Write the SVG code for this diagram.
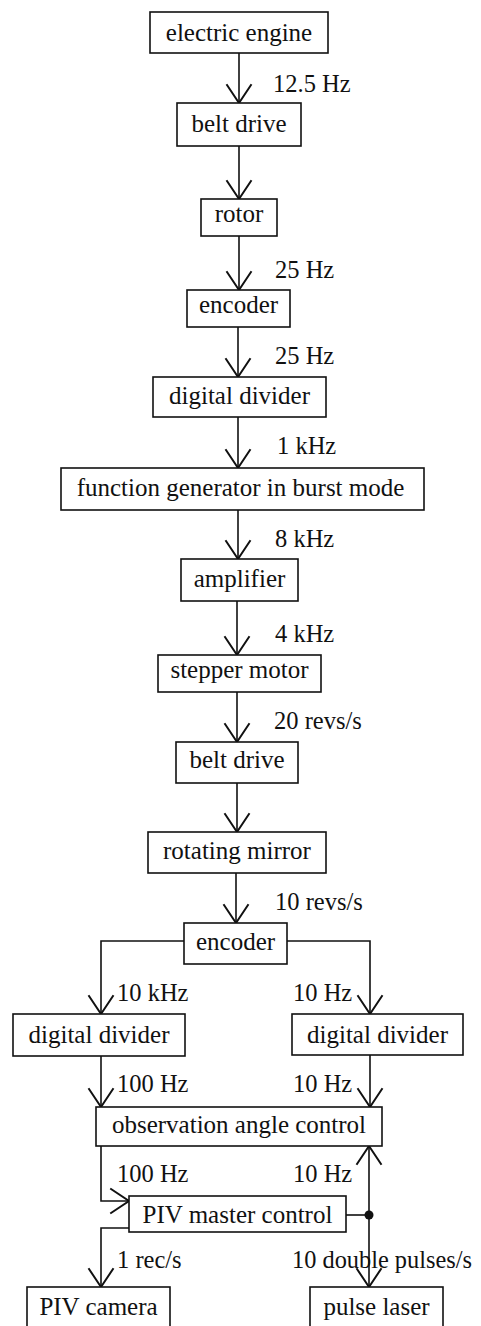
<svg xmlns="http://www.w3.org/2000/svg" width="481" height="1326" viewBox="0 0 481 1326">
<style>
.box{fill:#fff;stroke:#111;stroke-width:1.6}
.t{font-family:'Liberation Serif','Times New Roman',serif;font-size:25px;fill:#111;text-anchor:middle}
.l{font-family:'Liberation Serif','Times New Roman',serif;font-size:24.5px;fill:#111}
.c{fill:none;stroke:#111;stroke-width:1.6;marker-end:url(#ah)}
.p{fill:none;stroke:#111;stroke-width:1.6}
</style>
<defs>
<marker id="ah" markerUnits="userSpaceOnUse" markerWidth="30" markerHeight="30" viewBox="-16 -12 20 24" refX="0" refY="0" orient="auto">
<path d="M-15,-10 L0,0 L-15,10" fill="none" stroke="#111" stroke-width="1.6"/>
</marker>
</defs>
<rect width="481" height="1326" fill="#fff"/>
<g id="connectors">
<path class="c" d="M239,53 V103"/>
<path class="c" d="M239,146 V199"/>
<path class="c" d="M239,236 V290"/>
<path class="c" d="M238,327 V377"/>
<path class="c" d="M238,417 V468"/>
<path class="c" d="M238,510 V559"/>
<path class="c" d="M237,601 V655"/>
<path class="c" d="M237,692 V742"/>
<path class="c" d="M237,783 V832"/>
<path class="c" d="M236,873 V923"/>
<path class="c" d="M184,941 H101 V1014"/>
<path class="c" d="M287,941 H370 V1014"/>
<path class="c" d="M101,1056 V1107"/>
<path class="c" d="M370,1055 V1107"/>
<path class="c" d="M101,1146 V1201 H129"/>
<path class="c" d="M129,1228 H101 V1287"/>
<path class="p" d="M346,1215 H369"/>
<path class="c" d="M369,1215 V1146"/>
<path class="c" d="M369,1215 V1287"/>
<circle cx="369" cy="1215" r="4.5" fill="#111"/>
<text class="l" x="273" y="92">12.5 Hz</text>
<text class="l" x="275" y="278">25 Hz</text>
<text class="l" x="275" y="364">25 Hz</text>
<text class="l" x="277" y="454">1 kHz</text>
<text class="l" x="275" y="547">8 kHz</text>
<text class="l" x="275" y="642">4 kHz</text>
<text class="l" x="274" y="729">20 revs/s</text>
<text class="l" x="275" y="910">10 revs/s</text>
<text class="l" x="117" y="1001">10 kHz</text>
<text class="l" x="293" y="1001">10 Hz</text>
<text class="l" x="117" y="1092">100 Hz</text>
<text class="l" x="293" y="1092">10 Hz</text>
<text class="l" x="117" y="1182">100 Hz</text>
<text class="l" x="293" y="1182">10 Hz</text>
<text class="l" x="117" y="1268">1 rec/s</text>
<text class="l" x="292" y="1268" textLength="180" lengthAdjust="spacingAndGlyphs">10 double pulses/s</text>
</g>
<g id="n1"><rect class="box" x="150" y="12" width="178" height="41"/><text class="t" x="239" y="41">electric engine</text></g>
<g id="n2"><rect class="box" x="177" y="103" width="124" height="43"/><text class="t" x="239" y="132">belt drive</text></g>
<g id="n3"><rect class="box" x="201" y="199" width="76" height="37"/><text class="t" x="239" y="222">rotor</text></g>
<g id="n4"><rect class="box" x="187" y="290" width="103" height="37"/><text class="t" x="238.5" y="313">encoder</text></g>
<g id="n5"><rect class="box" x="153" y="377" width="173" height="40"/><text class="t" x="239.5" y="404">digital divider</text></g>
<g id="n6"><rect class="box" x="61" y="468" width="363" height="42"/><text class="t" x="240.5" y="496">function generator in burst mode</text></g>
<g id="n7"><rect class="box" x="181" y="559" width="117" height="42"/><text class="t" x="239.5" y="587">amplifier</text></g>
<g id="n8"><rect class="box" x="158" y="655" width="163" height="37"/><text class="t" x="239.5" y="678">stepper motor</text></g>
<g id="n9"><rect class="box" x="176" y="742" width="122" height="41"/><text class="t" x="237" y="768">belt drive</text></g>
<g id="n10"><rect class="box" x="148" y="832" width="178" height="41"/><text class="t" x="237" y="859">rotating mirror</text></g>
<g id="n11"><rect class="box" x="184" y="923" width="103" height="41"/><text class="t" x="235.5" y="950">encoder</text></g>
<g id="n12"><rect class="box" x="13" y="1014" width="172" height="42"/><text class="t" x="99" y="1043">digital divider</text></g>
<g id="n13"><rect class="box" x="292" y="1014" width="171" height="41"/><text class="t" x="377.5" y="1043">digital divider</text></g>
<g id="n14"><rect class="box" x="96" y="1107" width="286" height="39"/><text class="t" x="239" y="1133">observation angle control</text></g>
<g id="n15"><rect class="box" x="129" y="1196" width="217" height="36"/><text class="t" x="237.5" y="1223">PIV master control</text></g>
<g id="n16"><rect class="box" x="27" y="1287" width="143" height="60"/><text class="t" x="98.5" y="1315">PIV camera</text></g>
<g id="n17"><rect class="box" x="310" y="1287" width="133" height="60"/><text class="t" x="376.5" y="1315">pulse laser</text></g>
</svg>
